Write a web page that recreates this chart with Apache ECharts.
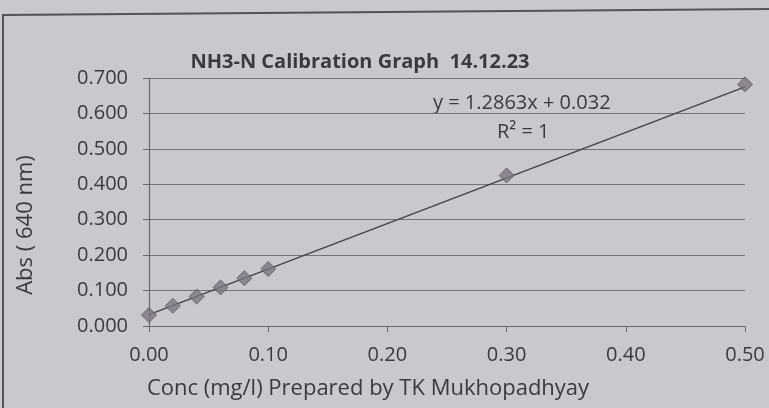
<!DOCTYPE html>
<html><head><meta charset="utf-8">
<script src="https://cdn.jsdelivr.net/npm/echarts@6/dist/echarts.min.js"></script>
<style>html,body{margin:0;padding:0;background:#cac7cd}#c{width:769px;height:408px}</style>
</head><body><div id="c"></div>
<script>
const concX = [0.00, 0.02, 0.04, 0.06, 0.08, 0.10, 0.30, 0.50];
const absY = [0.031, 0.057, 0.083, 0.109, 0.135, 0.161, 0.425, 0.682];
const trendX = [0.00, 0.50];
const trendY = [0.032, 0.675];
const titleText = 'NH3-N Calibration Graph  14.12.23';
const eqText = 'y = 1.2863x + 0.032';
const r2Text = 'R² = 1';
const xName = 'Conc (mg/l) Prepared by TK Mukhopadhyay';
const yName = 'Abs ( 640 nm)';

const chart = echarts.init(document.getElementById('c'));
const font = '"Open Sans", "Noto Sans", sans-serif';
const ink = '#3c3a40';
chart.setOption({
  backgroundColor: '#cac7cd',
  animation: false,
  textStyle: {fontFamily: font},
  title: {text: titleText, left: 355, top: 47, textAlign: 'center',
    textStyle: {fontFamily: font, fontSize: 20, fontWeight: 'bold', color: ink}},
  grid: {left: 149, right: 24, top: 78, bottom: 82},
  xAxis: {type: 'value', min: 0, max: 0.5, interval: 0.1,
    name: xName, nameLocation: 'middle', nameGap: 52,
    nameTextStyle: {fontSize: 22, color: ink, fontFamily: font, padding: [0, 158, 0, 0]},
    axisLine: {show: true, lineStyle: {color: '#6a676d', width: 1.2}},
    axisTick: {show: true, length: 6, lineStyle: {color: '#6a676d'}},
    splitLine: {show: false},
    axisLabel: {formatter: v => v.toFixed(2), fontSize: 20, color: ink, margin: 19, fontFamily: font}
  },
  yAxis: {type: 'value', min: 0, max: 0.7, interval: 0.1,
    name: yName, nameLocation: 'middle', nameGap: 112, nameRotate: 90,
    nameTextStyle: {fontSize: 22, color: ink, fontFamily: font, padding: [0, 46, 0, 0]},
    axisLine: {show: true, lineStyle: {color: '#6a676d', width: 1.2}},
    axisTick: {show: true, length: 6, lineStyle: {color: '#6a676d'}},
    splitLine: {show: true, lineStyle: {color: '#75727a', width: 1}},
    axisLabel: {formatter: v => v.toFixed(3), fontSize: 20, color: ink, margin: 21, fontFamily: font}
  },
  series: [
    {type: 'line', data: trendX.map((x, i) => [x, trendY[i]]), symbol: 'none',
      lineStyle: {color: '#46434a', width: 1.5}, z: 3},
    {type: 'scatter', data: concX.map((x, i) => [x, absY[i]]), symbol: 'diamond', symbolSize: 15,
      itemStyle: {color: '#7a7580', borderColor: '#5c5860', borderWidth: 1}, z: 4}
  ],
  graphic: [
    {type: 'text', left: 433, top: 93, style: {text: eqText, font: '20px ' + font, fill: ink}},
    {type: 'text', left: 497, top: 122, style: {text: r2Text, font: '20px ' + font, fill: ink}},
    {type: 'polyline', shape: {points: [[3, 408], [3, 15], [769, 9]]}, style: {stroke: '#55525a', lineWidth: 2, fill: null}}
  ]
});
</script></body></html>
